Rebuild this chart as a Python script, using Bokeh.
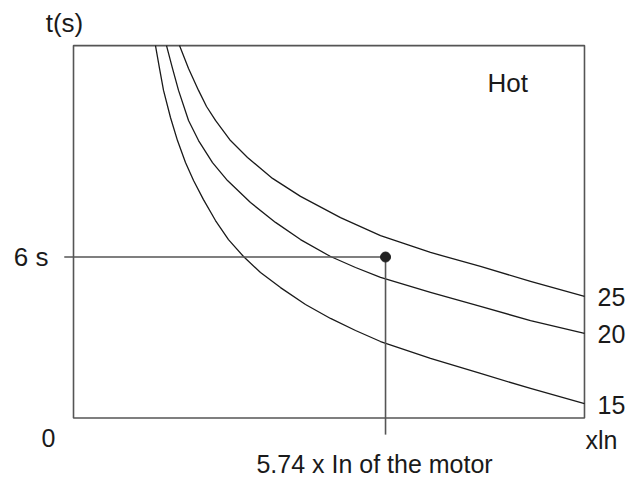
from bokeh.plotting import figure
from bokeh.models import Range1d
from bokeh.embed import file_html
from bokeh.resources import INLINE
from bokeh.core.properties import value

# ---- data ----
X_MAX = 9.40      # right edge of the box (x In)
T_MAX = 13.88     # top edge of the box (s)

x15 = [1.508, 1.582, 1.656, 1.784, 1.913, 2.060, 2.208, 2.391, 2.612, 2.851, 3.127,
       3.440, 3.808, 4.268, 4.728, 5.188, 5.648, 6.567, 7.487, 8.407, 9.400]
t15 = [13.88, 13.03, 12.21, 11.20, 10.34, 9.52, 8.85, 8.14, 7.36, 6.65, 6.02,
       5.42, 4.86, 4.23, 3.71, 3.26, 2.85, 2.22, 1.66, 1.10, 0.54]

x20 = [1.711, 1.821, 1.932, 2.116, 2.300, 2.557, 2.833, 3.256, 3.716, 4.176, 4.728,
       5.188, 5.648, 6.567, 7.487, 8.407, 9.400]
t20 = [13.88, 13.03, 12.21, 11.09, 10.34, 9.52, 8.85, 8.03, 7.29, 6.65, 6.02,
       5.61, 5.24, 4.68, 4.16, 3.63, 3.15]

x25 = [1.950, 2.116, 2.300, 2.447, 2.612, 2.888, 3.201, 3.661, 4.176, 4.912,
       5.648, 6.567, 7.487, 8.407, 9.400]
t25 = [13.88, 13.03, 12.21, 11.61, 11.09, 10.34, 9.71, 8.93, 8.26, 7.47,
       6.80, 6.17, 5.65, 5.09, 4.53]

curve_labels = ["15", "20", "25"]
trip_mult = 5.74
trip_time = 6.0

FONT = "Liberation Sans"
INK = "#1a1a1a"
FRAME = "#555555"

p = figure(width=634, height=477, output_backend="svg", toolbar_location=None,
           x_range=Range1d(-1.343, 10.320), y_range=Range1d(-2.218, 15.561),
           min_border=0)
p.axis.visible = False
p.grid.visible = False
p.outline_line_color = None
p.background_fill_color = "white"
p.border_fill_color = "white"

# box
p.quad(left=0, right=X_MAX, bottom=0, top=T_MAX, fill_color=None,
       line_color=FRAME, line_width=1.6)

# curves
for xs, ts in [(x15, t15), (x20, t20), (x25, t25)]:
    p.line(xs, ts, line_color=INK, line_width=1.3, line_join="round")

# guide lines
p.line([-0.17, trip_mult], [trip_time, trip_time], line_color=FRAME, line_width=1.6)
p.line([trip_mult, trip_mult], [trip_time, -0.62], line_color=FRAME, line_width=1.6)
p.scatter([trip_mult], [trip_time], size=10, color="#222222")

fs = "26px"
def txt(x, y, s, align="left", base="middle", xo=0, yo=0, size=fs):
    p.text([x], [y], text=[s], text_font=value(FONT), text_font_size=size,
           text_color=INK, text_align=align, text_baseline=base,
           x_offset=xo, y_offset=yo)

# curve labels at curve ends
for lab, ts in zip(curve_labels, [t15, t20, t25]):
    txt(X_MAX, ts[-1], lab, xo=13, yo=1, size="25px")

txt(0, T_MAX, "t(s)", align="center", xo=-9, yo=-23)
txt(0, trip_time, "6 s", align="right", xo=-25, yo=0)
txt(0, 0, "0", align="right", xo=-18, yo=20, size="25px")
txt(X_MAX, 0, "xln", align="left", xo=1, yo=22, size="25px")
txt(7.616, 12.5, "Hot")
txt(trip_mult, 0, "5.74 x In of the motor", align="center", xo=-11, yo=46, size="25px")

open("out.html", "w").write(file_html(p, INLINE))
